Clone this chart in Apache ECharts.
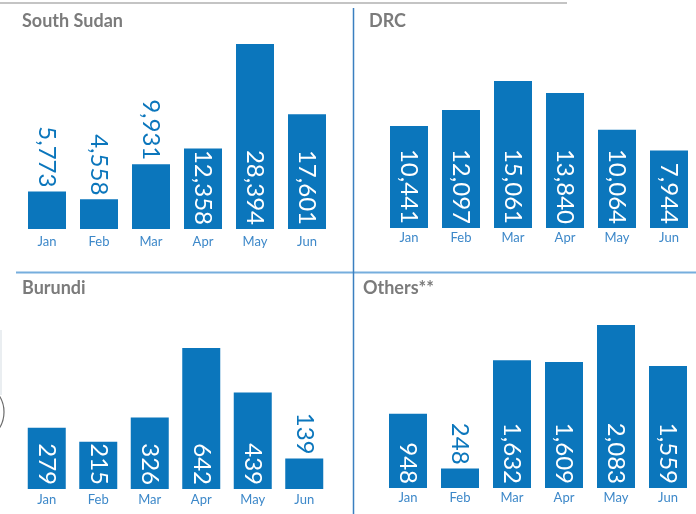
<!DOCTYPE html>
<html><head><meta charset="utf-8">
<script src="https://cdn.jsdelivr.net/npm/echarts@6/dist/echarts.min.js"></script>
<style>html,body{margin:0;padding:0;background:#fff}#c{width:696px;height:514px}</style>
</head><body><div id="c"></div>
<script>
// ---- data ----
const months = ['Jan', 'Feb', 'Mar', 'Apr', 'May', 'Jun'];
const panelTitles = ['South Sudan', 'DRC', 'Burundi', 'Others**'];
const southSudan = [5773, 4558, 9931, 12358, 28394, 17601];
const drc = [10441, 12097, 15061, 13840, 10064, 7944];
const burundi = [279, 215, 326, 642, 439, 139];
const others = [948, 248, 1632, 1609, 2083, 1559];
const panelData = [southSudan, drc, burundi, others];

// ---- layout / style ----
const layouts = [
  { left: 21,  top: 44,  width: 312, height: 185, tx: 22,  ty: 21.5,  margin: 6 },
  { left: 383, top: 81,  width: 312, height: 147, tx: 369, ty: 21.5,  margin: 3 },
  { left: 21,  top: 348, width: 309, height: 141, tx: 22,  ty: 288.5, margin: 4 },
  { left: 382, top: 325, width: 312, height: 163, tx: 363, ty: 288.5, margin: 3 }
];
const BAR = '#0b76bc';
const AXIS_TXT = '#3d88c9';
const TITLE_TXT = '#7b7b7b';
const FONT = 'Lato, "Open Sans", sans-serif';

function fmt(v) { return v.toLocaleString('en-US'); }
function fitsInside(v, max) { return v / max >= 0.065 * fmt(v).length + 0.03; }

const grids = [], xAxes = [], yAxes = [], series = [], graphics = [];
layouts.forEach((L, i) => {
  const vals = panelData[i];
  const max = Math.max(...vals);
  grids.push({ left: L.left, top: L.top, width: L.width, height: L.height, containLabel: false });
  xAxes.push({
    type: 'category', gridIndex: i, data: months,
    axisLine: { show: false }, axisTick: { show: false },
    axisLabel: { color: AXIS_TXT, fontSize: 13, fontFamily: FONT, margin: L.margin }
  });
  yAxes.push({ type: 'value', gridIndex: i, min: 0, max: 'dataMax', show: false, splitLine: { show: false } });
  series.push({
    type: 'bar', xAxisIndex: i, yAxisIndex: i, barWidth: 38,
    itemStyle: { color: BAR },
    data: vals.map(v => {
      const inside = fitsInside(v, max);
      return {
        value: v,
        label: {
          show: true, formatter: fmt(v), rotate: -90,
          position: inside ? 'insideBottom' : 'top',
          distance: 4, align: 'right', verticalAlign: 'middle',
          color: inside ? '#ffffff' : BAR,
          fontSize: 24, fontFamily: FONT
        }
      };
    })
  });
  graphics.push({
    type: 'text', x: L.tx, y: L.ty,
    style: { text: panelTitles[i], fill: TITLE_TXT, font: 'bold 18px ' + FONT, textVerticalAlign: 'middle' }
  });
});

// dividers and page artifacts
graphics.push(
  { type: 'line', shape: { x1: 0, y1: 3, x2: 567, y2: 3 }, style: { stroke: '#c4c4c4', lineWidth: 2 } },
  { type: 'line', shape: { x1: 16, y1: 272.5, x2: 696, y2: 272.5 }, style: { stroke: '#76aedd', lineWidth: 2 } },
  { type: 'line', shape: { x1: 353.5, y1: 8, x2: 353.5, y2: 514 }, style: { stroke: '#3a7fc0', lineWidth: 1.5 } },
  { type: 'line', shape: { x1: 1, y1: 330, x2: 1, y2: 395 }, style: { stroke: '#e3e8ec', lineWidth: 1.5 } },
  { type: 'arc', shape: { cx: -26, cy: 412, r: 30, startAngle: -Math.PI / 2, endAngle: Math.PI / 2 }, style: { stroke: '#6b6b6b', lineWidth: 1.2, fill: null } }
);

const chart = echarts.init(document.getElementById('c'), null, { renderer: 'canvas' });
chart.setOption({
  animation: false,
  backgroundColor: '#ffffff',
  grid: grids, xAxis: xAxes, yAxis: yAxes, series: series,
  graphic: graphics
});
</script></body></html>
